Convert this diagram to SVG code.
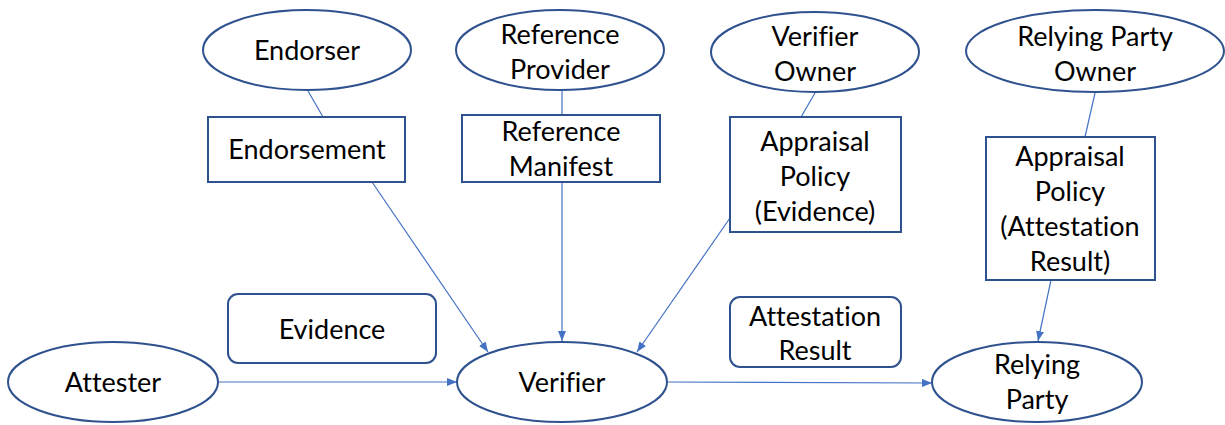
<svg xmlns="http://www.w3.org/2000/svg" width="1225" height="425" viewBox="0 0 1225 425">
<style>
.n{fill:#fff;stroke:#2F528F;stroke-width:2}
.t{font-family:Lato,"Open Sans","Liberation Sans",sans-serif;font-size:27px;fill:#000;text-anchor:middle;font-variant-ligatures:none}
.c{fill:none;stroke:#4472C4;stroke-width:1.2}
</style>
<defs>
<marker id="ah" markerWidth="10" markerHeight="8" refX="10" refY="4" orient="auto" markerUnits="userSpaceOnUse">
<path d="M0,0 L10,4 L0,8 Z" fill="#4472C4"/>
</marker>
</defs>
<rect width="1225" height="425" fill="#fff"/>
<g id="connectors">
<line class="c" x1="308" y1="91" x2="323" y2="117"/>
<line class="c" x1="372" y1="182" x2="488" y2="352" marker-end="url(#ah)"/>
<line class="c" x1="562" y1="90" x2="562" y2="115"/>
<line class="c" x1="562" y1="182" x2="562" y2="341" marker-end="url(#ah)"/>
<line class="c" x1="815" y1="93" x2="801" y2="117"/>
<line class="c" x1="730" y1="218" x2="637" y2="352" marker-end="url(#ah)"/>
<line class="c" x1="1095" y1="93" x2="1085" y2="137"/>
<line class="c" x1="1051" y1="280" x2="1038" y2="341" marker-end="url(#ah)"/>
<line class="c" x1="218" y1="382" x2="457" y2="382" marker-end="url(#ah)"/>
<line class="c" x1="667" y1="382" x2="932" y2="383" marker-end="url(#ah)"/>
</g>
<g id="endorser"><ellipse class="n" cx="307" cy="50" rx="104" ry="40"/><text class="t" x="307" y="60">Endorser</text></g>
<g id="endorsement"><rect class="n" x="208" y="117" width="197" height="65"/><text class="t" x="307" y="159">Endorsement</text></g>
<g id="reference-provider"><ellipse class="n" cx="560" cy="50" rx="104" ry="40"/><text class="t" x="560" y="44">Reference</text><text class="t" x="560" y="79">Provider</text></g>
<g id="reference-manifest"><rect class="n" x="462" y="115" width="198" height="67"/><text class="t" x="561" y="141">Reference</text><text class="t" x="561" y="176">Manifest</text></g>
<g id="verifier-owner"><ellipse class="n" cx="815" cy="52" rx="104" ry="40"/><text class="t" x="815" y="46">Verifier</text><text class="t" x="815" y="81">Owner</text></g>
<g id="appraisal-policy-evidence"><rect class="n" x="730" y="117" width="171" height="115"/><text class="t" x="815" y="151">Appraisal</text><text class="t" x="815" y="186">Policy</text><text class="t" x="815" y="221">(Evidence)</text></g>
<g id="relying-party-owner"><ellipse class="n" cx="1095" cy="51" rx="129" ry="41"/><text class="t" x="1095" y="46">Relying Party</text><text class="t" x="1095" y="81">Owner</text></g>
<g id="appraisal-policy-ar"><rect class="n" x="986" y="137" width="169" height="143"/><text class="t" x="1070" y="166">Appraisal</text><text class="t" x="1070" y="201">Policy</text><text class="t" x="1070" y="236">(Attestation</text><text class="t" x="1070" y="271">Result)</text></g>
<g id="attester"><ellipse class="n" cx="113" cy="382" rx="105" ry="40"/><text class="t" x="113" y="392">Attester</text></g>
<g id="evidence"><rect class="n" x="228" y="294" width="208" height="69" rx="10"/><text class="t" x="332" y="339">Evidence</text></g>
<g id="verifier"><ellipse class="n" cx="562" cy="382" rx="105" ry="40"/><text class="t" x="562" y="392">Verifier</text></g>
<g id="attestation-result"><rect class="n" x="730" y="297" width="171" height="70" rx="10"/><text class="t" x="815" y="326">Attestation</text><text class="t" x="815" y="360">Result</text></g>
<g id="relying-party"><ellipse class="n" cx="1037" cy="382" rx="105" ry="40"/><text class="t" x="1037" y="374">Relying</text><text class="t" x="1037" y="409">Party</text></g>
</svg>
